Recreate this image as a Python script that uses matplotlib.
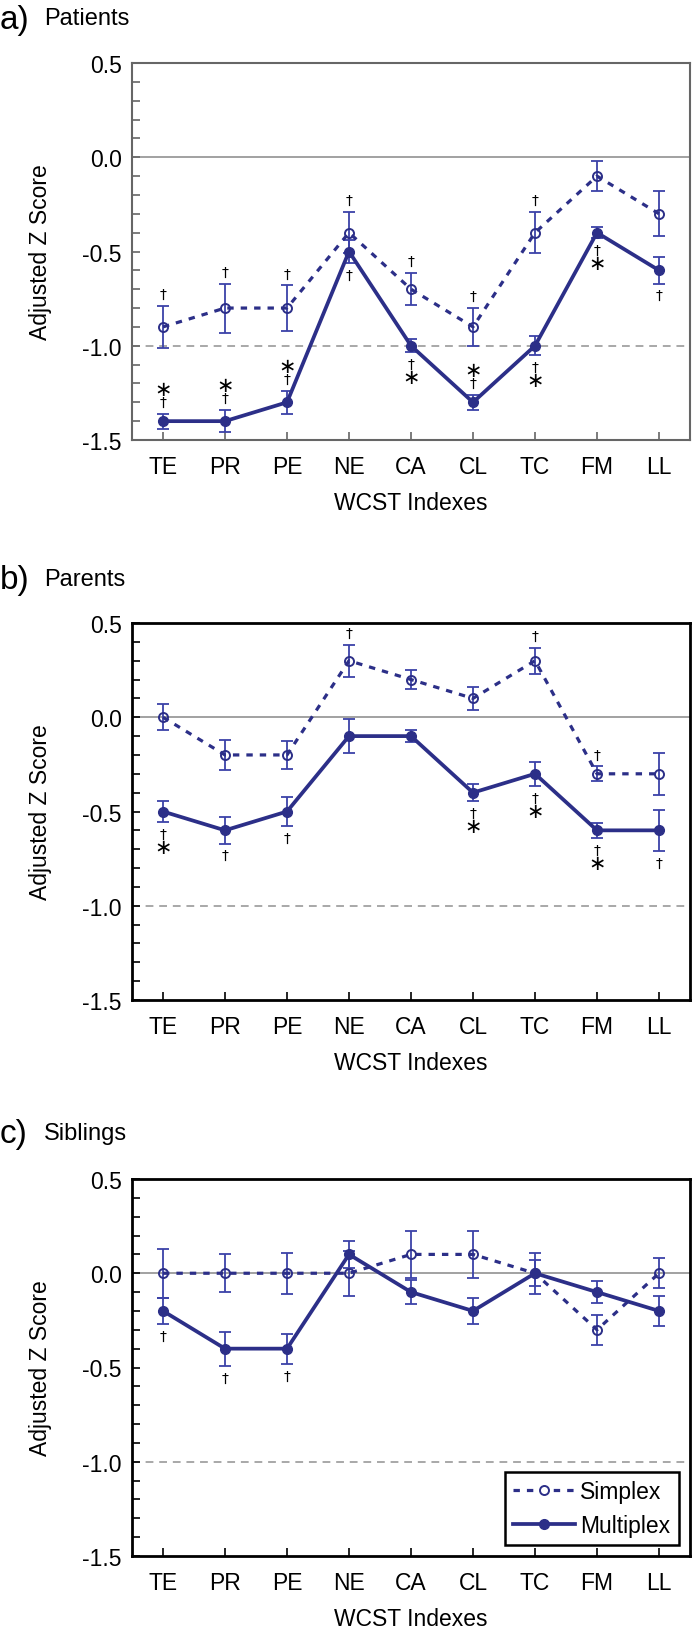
import matplotlib
matplotlib.use("Agg")
import matplotlib.pyplot as plt
from matplotlib.ticker import MultipleLocator
from matplotlib.lines import Line2D

plt.rcParams['font.family'] = ['Liberation Sans', 'DejaVu Sans']
plt.rcParams['axes.unicode_minus'] = False

# ---------------- data ----------------
categories = ['TE', 'PR', 'PE', 'NE', 'CA', 'CL', 'TC', 'FM', 'LL']
yticks = [0.5, 0.0, -0.5, -1.0, -1.5]

pat_simplex = [-0.9, -0.8, -0.8, -0.4, -0.7, -0.9, -0.4, -0.1, -0.3]
pat_simplex_err = [0.11, 0.13, 0.12, 0.11, 0.085, 0.10, 0.11, 0.08, 0.12]
pat_multiplex = [-1.4, -1.4, -1.3, -0.5, -1.0, -1.3, -1.0, -0.4, -0.6]
pat_multiplex_err = [0.04, 0.06, 0.06, 0.06, 0.035, 0.04, 0.05, 0.03, 0.07]
pat_simplex_above = ['†', '†', '†', '†', '†', '†', '†', '', '']
pat_multiplex_above = ['†*', '†*', '†*', '', '', '†*', '', '', '']
pat_multiplex_below = ['', '', '', '†', '†*', '', '†*', '†*', '†']

par_simplex = [0.0, -0.2, -0.2, 0.3, 0.2, 0.1, 0.3, -0.3, -0.3]
par_simplex_err = [0.07, 0.08, 0.075, 0.085, 0.05, 0.06, 0.07, 0.04, 0.11]
par_multiplex = [-0.5, -0.6, -0.5, -0.1, -0.1, -0.4, -0.3, -0.6, -0.6]
par_multiplex_err = [0.055, 0.07, 0.075, 0.09, 0.03, 0.045, 0.065, 0.04, 0.11]
par_simplex_above = ['', '', '', '†', '', '', '†', '†', '']
par_multiplex_above = ['', '', '', '', '', '', '', '', '']
par_multiplex_below = ['†*', '†', '†', '', '', '†*', '†*', '†*', '†']

sib_simplex = [0.0, 0.0, 0.0, 0.0, 0.1, 0.1, 0.0, -0.3, 0.0]
sib_simplex_err = [0.13, 0.10, 0.11, 0.12, 0.125, 0.125, 0.11, 0.08, 0.08]
sib_multiplex = [-0.2, -0.4, -0.4, 0.1, -0.1, -0.2, 0.0, -0.1, -0.2]
sib_multiplex_err = [0.07, 0.09, 0.08, 0.07, 0.065, 0.07, 0.07, 0.06, 0.08]
sib_simplex_above = ['', '', '', '', '', '', '', '', '']
sib_multiplex_above = ['', '', '', '', '', '', '', '', '']
sib_multiplex_below = ['†', '†', '†', '', '', '', '', '', '']

panel_letters = ['a)', 'b)', 'c)']
panel_titles = ['Patients', 'Parents', 'Siblings']
legend_labels = ['Simplex', 'Multiplex']

# ---------------- style ----------------
W, H = 692, 1633
DPI = 100
LINE_C = '#2c2f88'
ERR_C = '#3c42a8'
TICK_FS = 16.5

fig = plt.figure(figsize=(W / DPI, H / DPI), dpi=DPI)

# axes rectangles in pixels (left, top, right, bottom)
boxes = [(132, 64, 690, 441), (132, 624, 690, 1001), (132, 1180, 690, 1557)]
title_y = [20, 581, 1135]
spine_style = [('#666666', 1.5), ('black', 2.0), ('black', 2.0)]

panels = [
    (pat_simplex, pat_simplex_err, pat_multiplex, pat_multiplex_err,
     pat_simplex_above, pat_multiplex_above, pat_multiplex_below),
    (par_simplex, par_simplex_err, par_multiplex, par_multiplex_err,
     par_simplex_above, par_multiplex_above, par_multiplex_below),
    (sib_simplex, sib_simplex_err, sib_multiplex, sib_multiplex_err,
     sib_simplex_above, sib_multiplex_above, sib_multiplex_below),
]

simplex_ls = (0, (2.0, 2.2))


def put_marks(ax, xs, ys, errs, marks, direction):
    for x, y, e, s in zip(xs, ys, errs, marks):
        for k, ch in enumerate(s):
            off = (8.5 + 9.5 * k) * direction
            if ch == '*':
                txt, fs = '\u2217', 15
            else:
                txt, fs = '\u2020', 10
            ax.annotate(txt, xy=(x, y + direction * e), xytext=(0, off),
                        textcoords='offset points', ha='center', va='center',
                        fontsize=fs, color='black', family=['DejaVu Sans'],
                        zorder=6)


for i, (box, data) in enumerate(zip(boxes, panels)):
    l, t, r, b = box
    ax = fig.add_axes([l / W, 1 - b / H, (r - l) / W, (b - t) / H])
    s_v, s_e, m_v, m_e, s_above, m_above, m_below = data
    xs = list(range(len(categories)))

    ax.axhline(0.0, color='#9a9a9a', lw=1.3, zorder=0.5)
    ax.axhline(-1.0, color='#a8a8a8', lw=1.4, ls=(0, (4, 3)), zorder=0.5)

    ax.errorbar(xs, s_v, yerr=s_e, fmt='none', ecolor=ERR_C, elinewidth=1.3,
                capsize=4.6, capthick=1.3, zorder=2)
    ax.errorbar(xs, m_v, yerr=m_e, fmt='none', ecolor=ERR_C, elinewidth=1.3,
                capsize=4.6, capthick=1.3, zorder=2)
    ax.plot(xs, s_v, ls=simplex_ls, lw=2.3, color=LINE_C, marker='o', ms=6.5,
            mfc='none', mec=LINE_C, mew=1.4, zorder=3)
    ax.plot(xs, m_v, ls='-', lw=2.7, color=LINE_C, marker='o', ms=7,
            mfc=LINE_C, mec=LINE_C, zorder=4)

    put_marks(ax, xs, s_v, s_e, s_above, +1)
    put_marks(ax, xs, m_v, m_e, m_above, +1)
    put_marks(ax, xs, m_v, m_e, m_below, -1)

    ax.set_xlim(-0.5, len(categories) - 0.5)
    ax.set_ylim(-1.5, 0.5)
    ax.set_xticks(xs)
    ax.set_xticklabels(categories)
    ax.set_yticks(yticks)
    ax.set_yticklabels([f'{v:.1f}' for v in yticks])
    ax.yaxis.set_minor_locator(MultipleLocator(0.1))

    sc, sw = spine_style[i]
    for sp in ax.spines.values():
        sp.set_color(sc)
        sp.set_linewidth(sw)
    ax.tick_params(axis='both', which='both', direction='in', length=5.5,
                   width=1.2, color=sc, top=False, right=False)
    ax.tick_params(axis='x', which='major', labelsize=TICK_FS, pad=11)
    ax.tick_params(axis='y', which='major', labelsize=TICK_FS, pad=7.5)

    # axis labels
    fig.text(41 / W, 1 - ((t + b) / 2) / H, 'Adjusted Z Score', rotation=90,
             ha='center', va='center', fontsize=TICK_FS)
    fig.text(((l + r) / 2) / W, 1 - (b + 63) / H, 'WCST Indexes',
             ha='center', va='center', fontsize=TICK_FS)

    # panel titles
    fig.text(0.0, 1 - title_y[i] / H, panel_letters[i], ha='left',
             va='center', fontsize=24)
    fig.text(44 / W, 1 - (title_y[i] - 1) / H, panel_titles[i], ha='left',
             va='center', fontsize=TICK_FS + 0.5)

    if i == 2:
        handles = [
            Line2D([], [], ls=simplex_ls, lw=2.3, color=LINE_C, marker='o',
                   ms=6.5, mfc='white', mec=LINE_C, mew=1.4),
            Line2D([], [], ls='-', lw=2.7, color=LINE_C, marker='o', ms=7,
                   mfc=LINE_C, mec=LINE_C),
        ]
        leg = ax.legend(handles, legend_labels, loc='lower right',
                        fontsize=TICK_FS, frameon=True, fancybox=False,
                        edgecolor='black', framealpha=1, borderpad=0.35,
                        handlelength=2.7, handletextpad=0.25,
                        labelspacing=0.45, borderaxespad=0.5)
        leg.get_frame().set_linewidth(1.8)

fig.savefig('out.png', dpi=DPI)
